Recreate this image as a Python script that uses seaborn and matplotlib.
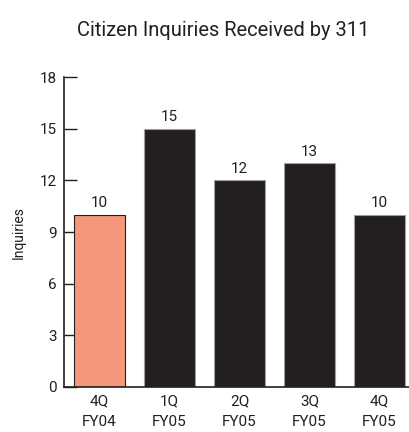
import matplotlib
matplotlib.use("Agg")
import matplotlib.pyplot as plt
import seaborn as sns
import pandas as pd

quarters = ["4Q\nFY04", "1Q\nFY05", "2Q\nFY05", "3Q\nFY05", "4Q\nFY05"]
inquiries = [10, 15, 12, 13, 10]
bar_colors = ["#f4977a", "#231f20", "#231f20", "#231f20", "#231f20"]
y_ticks = [0, 3, 6, 9, 12, 15, 18]

sns.set_style("white")
plt.rcParams['font.family'] = ['Roboto', 'DejaVu Sans']
plt.rcParams['ytick.direction'] = 'in'

df = pd.DataFrame({"quarter": quarters, "inquiries": inquiries})

fig = plt.figure(figsize=(4.09, 4.32), dpi=100)
ax = fig.add_axes([64 / 409, 1 - 387 / 432, 1 - 64 / 409, (387 - 77) / 432])

sns.barplot(data=df, x="quarter", y="inquiries", hue="quarter",
            palette=bar_colors, legend=False, width=0.73,
            edgecolor="#3a3a3a", linewidth=0.8, saturation=1, ax=ax)
for bar in ax.patches:
    if bar.get_facecolor()[0] > 0.5:
        bar.set_edgecolor("#231f20")
    else:
        bar.set_edgecolor("#a0a0a0")

for i, v in enumerate(inquiries):
    ax.text(i, v + 0.25, str(v), ha="center", va="bottom", fontsize=11, color="#231f20")

ax.set_xlim(-0.507, 4.42)
ax.set_ylim(0, 18)
ax.set_yticks(y_ticks)
ax.tick_params(axis="y", direction="in", length=9, width=1, colors="#231f20",
               labelsize=11, left=True, pad=5)
ax.tick_params(axis="x", length=0, labelsize=11, colors="#231f20", pad=5)
for lbl in ax.get_xticklabels():
    lbl.set_linespacing(1.6)

sns.despine(ax=ax, top=True, right=True)
ax.spines["left"].set_color("#231f20")
ax.spines["bottom"].set_color("#231f20")
ax.spines["left"].set_linewidth(1.2)
ax.spines["bottom"].set_linewidth(1.2)

ax.set_xlabel("")
ax.set_ylabel("Inquiries", fontsize=10, color="#231f20", labelpad=10)

fig.text(223 / 409, 1 - 31 / 432, "Citizen Inquiries Received by 311",
         ha="center", va="center", fontsize=14.5, color="#231f20")

fig.savefig("out.png", dpi=100)
